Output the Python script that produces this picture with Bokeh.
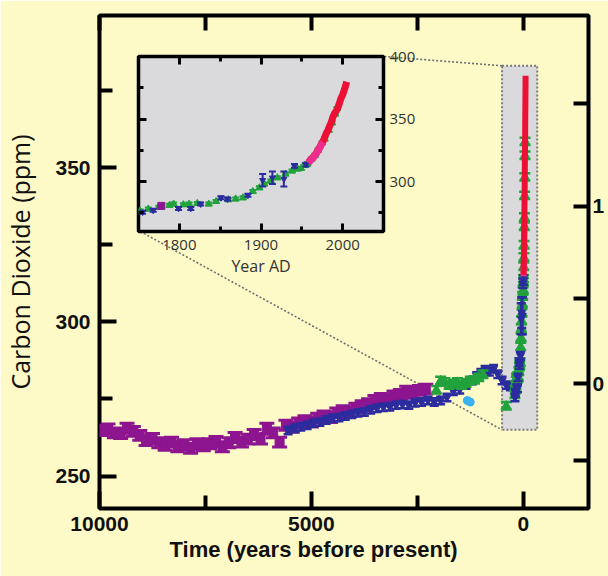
import math
from bokeh.plotting import figure
from bokeh.models import Range1d, LinearAxis, FixedTicker, Title
from bokeh.embed import file_html
from bokeh.resources import INLINE

# ---------------- Holocene records (years before 1950, ppm) ----------------
dome_bp = [9950, 9800, 9650, 9500, 9350, 9200, 9050, 8900, 8750, 8600, 8450, 8300,
           8150, 8000, 7850, 7700, 7550, 7400, 7250, 7100, 6950, 6800, 6650, 6500,
           6350, 6200, 6050, 5900, 5750, 5600, 5450, 5300, 5150, 5000, 4850, 4700,
           4550, 4400, 4250, 4100, 3950, 3800, 3650, 3500, 3350, 3200, 3050, 2900,
           2750, 2600, 2450, 2300]
dome_ppm = [264.8, 265.3, 264.0, 263.8, 265.5, 264.5, 263.2, 261.5, 262.2, 260.8, 260.0, 261.0,
            259.5, 260.2, 259.0, 260.5, 259.8, 260.5, 261.2, 259.5, 260.8, 262.5, 261.0, 262.0,
            263.5, 262.0, 265.5, 264.0, 261.0, 266.5, 265.8, 267.2, 268.0, 267.5, 268.8, 269.5,
            269.0, 270.5, 271.2, 270.8, 272.0, 272.8, 273.5, 274.5, 275.2, 274.8, 276.0, 276.5,
            277.5, 276.8, 277.8, 278.2]
dome_err = 1.6

taylor_bp = [5550, 5400, 5250, 5100, 4950, 4800, 4650, 4500, 4350, 4200, 4050, 3900,
             3750, 3600, 3450, 3300, 3150, 3000, 2850, 2700, 2550, 2400, 2250, 2100,
             1950, 1800, 1650, 1500, 1350, 1200, 1100, 1000, 900, 800, 700, 600,
             500, 400, 300]
taylor_ppm = [264.8, 265.5, 266.0, 266.5, 267.2, 267.5, 268.2, 268.8, 269.0, 269.5, 270.0, 270.5,
              270.8, 271.5, 272.0, 272.3, 272.5, 273.0, 273.2, 273.0, 273.8, 274.0, 274.5, 274.0,
              274.5, 275.5, 277.5, 278.0, 279.5, 281.0, 282.5, 283.5, 284.5, 283.8, 284.8, 283.0,
              281.0, 279.5, 279.0]
taylor_err = 1.2

law_holo_bp = [2050, 1950, 1850, 1750, 1650, 1550, 1450, 1350, 1250, 1150, 1050, 950, 400]
law_holo_ppm = [278.0, 281.0, 280.5, 279.5, 280.0, 280.5, 279.5, 280.2, 281.0, 281.2, 282.0, 283.0, 272.8]
law_holo_err = 1.2

siple_bp = [1320, 1250]
siple_ppm = [274.5, 274.0]

# ---------------- Industrial era records (year AD, ppm) ----------------
core_year = [1755, 1768, 1799, 1814, 1826, 1851, 1859, 1884, 1902, 1914, 1928, 1941, 1955]
core_ppm = [275.5, 277.0, 278.5, 278.5, 282.0, 287.0, 286.0, 289.0, 301.0, 303.0, 302.0, 312.5, 313.5]
core_err = [1.2, 1.2, 1.2, 1.2, 1.2, 1.2, 1.2, 1.2, 5.0, 5.0, 6.0, 1.5, 1.5]

firn_year = [1752, 1762, 1775, 1788, 1793, 1805, 1812, 1822, 1836, 1845, 1860, 1869, 1878,
             1890, 1898, 1904, 1912, 1920, 1930, 1938, 1945, 1949, 1954, 1957, 1962, 1966,
             1970, 1975, 1978, 1983, 1987, 1991, 1993]
firn_ppm = [276.5, 278.0, 279.5, 281.0, 282.0, 281.5, 282.0, 282.5, 282.0, 284.0, 285.5, 286.1, 287.0,
            292.0, 295.0, 298.0, 300.5, 303.0, 306.0, 308.5, 310.0, 310.5, 313.0, 314.0, 318.0, 321.0,
            325.0, 331.0, 334.0, 341.0, 347.0, 354.0, 358.5]
firn_err = 1.2

taylor_recent_year = [1778]
taylor_recent_ppm = [280.5]

spo_year = [1958, 1960, 1962, 1964, 1966, 1968, 1970, 1972, 1974, 1976]
spo_ppm = [314.8, 316.4, 317.8, 319.0, 320.6, 322.4, 325.0, 326.8, 329.5, 331.6]

mlo_year = [1958, 1960, 1962, 1964, 1966, 1968, 1970, 1972, 1974, 1976, 1978, 1980,
            1982, 1984, 1986, 1988, 1990, 1992, 1994, 1996, 1998, 2000, 2002, 2004, 2005]
mlo_ppm = [315.3, 316.9, 318.4, 319.6, 321.1, 323.0, 325.7, 327.4, 330.2, 332.1, 335.4, 338.7,
           341.1, 344.4, 347.2, 351.6, 354.4, 356.3, 358.8, 362.6, 366.7, 369.4, 373.2, 377.5, 379.8]

# Radiative forcing scale (W m-2): F = 5.35 ln(C / 280)
forcing_major = [0, 1]
forcing_minor = [-0.5, 0.5, 1.5]
F_COEF, C_REF = 5.35, 280.0

# Axis ticks
time_major = [10000, 5000, 0]
time_minor = [7500, 2500]
ppm_major = [250, 300, 350]
ppm_minor = [275, 325, 375]
year_major = [1800, 1900, 2000]
year_minor = [1850, 1950]
inset_ppm_major = [300, 350, 400]
inset_ppm_minor = [275, 325, 375]

# ---------------- styling ----------------
YELLOW = "#FDFAC8"
BOXGRAY = "#DADADD"
PURPLE = "#8E1590"
BLUE = "#2B2C9E"
GREEN = "#22A23C"
CYAN = "#38B2F0"
PINK = "#EE2C8E"
RED = "#EC1034"
BOLD_FONT = "Liberation Sans"
PLAIN_FONT = "Open Sans"
INK = "#111111"
TICK_SIZE = "21px"

W, H = 608, 576
FL, FR, FT, FB = 97, 588, 15, 508          # main frame edges (px)
X0, X1 = 10000, -1540
Y0, Y1 = 239.5, 399.3

IX, IY, IW, IH = 100, 38, 330, 256          # inset canvas placement (px)
IL, IR, IT, IB = 138, 383, 56, 231           # inset frame edges (px)


def to_bp(years):
    return [1950 - y for y in years]


def px_to_main(px, py):
    x = X0 + (px - FL) / (FR - FL) * (X1 - X0)
    y = Y1 - (py - FT) / (FB - FT) * (Y1 - Y0)
    return x, y


def errbar_series(fig, x, y, err, color, marker, size, cap, lw):
    errs = err if isinstance(err, list) else [err] * len(y)
    lo = [v - e for v, e in zip(y, errs)]
    hi = [v + e for v, e in zip(y, errs)]
    fig.segment(x0=x, y0=lo, x1=x, y1=hi, line_color=color, line_width=lw)
    fig.scatter(x + x, lo + hi, marker="dash", size=cap, line_color=color, line_width=lw)
    fig.scatter(x, y, marker=marker, size=size, fill_color=color, line_color=color)


def style_axis(ax, major_in, minor_in, width, font=None, size=None, style="normal",
               color=INK, show=True):
    ax.axis_line_color = None
    ax.major_tick_in, ax.major_tick_out = major_in, 0
    ax.minor_tick_in, ax.minor_tick_out = minor_in, 0
    ax.major_tick_line_width = width
    ax.minor_tick_line_width = width
    ax.major_tick_line_color = "black"
    ax.minor_tick_line_color = "black"
    if show:
        ax.major_label_text_font = font
        ax.major_label_text_font_size = size
        ax.major_label_text_font_style = style
        ax.major_label_text_color = color
    else:
        # tick marks only
        ax.major_label_text_color = None
        ax.major_label_text_font_size = "1px"
        ax.major_label_standoff = 0


def no_grid(fig):
    for g in fig.grid:
        g.visible = False


# ---------------- main panel ----------------
main = figure(width=W, height=H, x_range=Range1d(X0, X1), y_range=Range1d(Y0, Y1),
              output_backend="svg", toolbar_location=None,
              x_axis_location=None, y_axis_location=None,
              min_border_left=FL, min_border_right=W - FR,
              min_border_top=FT, min_border_bottom=H - FB)
main.background_fill_color = YELLOW
main.border_fill_color = YELLOW
main.outline_line_color = "black"
main.outline_line_width = 4
no_grid(main)

xb = LinearAxis(ticker=FixedTicker(ticks=time_major, minor_ticks=time_minor))
style_axis(xb, 17, 13, 4, BOLD_FONT, TICK_SIZE, "bold")
xb.major_label_standoff = 8
main.add_layout(xb, "below")
main.add_layout(Title(text="Time (years before present)", align="left", offset=70,
                      text_font=BOLD_FONT, text_font_size="22px", text_font_style="bold",
                      text_color=INK, standoff=2), "below")

xt = LinearAxis(ticker=FixedTicker(ticks=time_major, minor_ticks=time_minor))
style_axis(xt, 15, 15, 4, show=False)
main.add_layout(xt, "above")

yl = LinearAxis(ticker=FixedTicker(ticks=ppm_major, minor_ticks=ppm_minor),
                axis_label="Carbon Dioxide (ppm)")
style_axis(yl, 17, 13, 4, BOLD_FONT, TICK_SIZE, "bold")
yl.major_label_standoff = 9
yl.axis_label_standoff = 15
yl.axis_label_text_font = PLAIN_FONT
yl.axis_label_text_font_size = "25px"
yl.axis_label_text_font_style = "normal"
yl.axis_label_text_color = INK
main.add_layout(yl, "left")

forcing_ticks = [C_REF * math.exp(f / F_COEF) for f in forcing_major]
forcing_minor_ticks = [C_REF * math.exp(f / F_COEF) for f in forcing_minor]
yr = LinearAxis(ticker=FixedTicker(ticks=forcing_ticks, minor_ticks=forcing_minor_ticks))
yr.major_label_overrides = {t: str(f) for t, f in zip(forcing_ticks, forcing_major)}
style_axis(yr, 15, 15, 4, BOLD_FONT, TICK_SIZE, "bold")
yr.major_label_standoff = 4
main.add_layout(yr, "right")

# highlighted industrial-era box and its links to the inset
main.quad(left=500, right=-330, bottom=265, top=383, fill_color=BOXGRAY,
          line_color="#7A7A7A", line_width=2, line_dash="2 2")
for cx, cy, tx, ty in [(IR, IT, 500, 383), (IL, IB, 500, 265)]:
    sx, sy = px_to_main(cx, cy)
    main.line([sx, tx], [sy, ty], line_color="#6E6E6E", line_width=1.6, line_dash="2 2")

errbar_series(main, dome_bp, dome_ppm, dome_err, PURPLE, "square", 9, 15, 3)
errbar_series(main, taylor_bp, taylor_ppm, taylor_err, BLUE, "inverted_triangle", 8, 9, 2.5)
errbar_series(main, law_holo_bp, law_holo_ppm, law_holo_err, GREEN, "triangle", 9, 11, 2.5)
main.scatter(siple_bp, siple_ppm, marker="circle", size=8, fill_color=CYAN, line_color=CYAN)
errbar_series(main, to_bp(firn_year), firn_ppm, firn_err, GREEN, "triangle", 9, 11, 2.5)
errbar_series(main, to_bp(core_year), core_ppm, core_err, BLUE, "inverted_triangle", 8, 9, 2.5)
main.line(to_bp(spo_year), spo_ppm, line_color=PINK, line_width=6)
main.line(to_bp(mlo_year), mlo_ppm, line_color=RED, line_width=6)

# ---------------- inset: industrial era ----------------
inset = figure(width=IW, height=IH, x_range=Range1d(1750, 2050), y_range=Range1d(260, 400),
               output_backend="svg", toolbar_location=None,
               x_axis_location=None, y_axis_location=None,
               min_border_left=IL - IX, min_border_right=IX + IW - IR,
               min_border_top=IT - IY, min_border_bottom=IY + IH - IB,
               styles={"position": "absolute", "left": f"{IX}px", "top": f"{IY}px"})
inset.background_fill_color = BOXGRAY
inset.border_fill_color = None
inset.outline_line_color = "black"
inset.outline_line_width = 3.5
no_grid(inset)

ixb = LinearAxis(ticker=FixedTicker(ticks=year_major, minor_ticks=year_minor), axis_label="Year AD")
style_axis(ixb, 8, 5, 3, PLAIN_FONT, "15px", "normal", color="#333333")
ixb.major_label_standoff = 8
ixb.axis_label_standoff = 2
ixb.axis_label_text_font = PLAIN_FONT
ixb.axis_label_text_font_size = "16px"
ixb.axis_label_text_font_style = "normal"
ixb.axis_label_text_color = "#333333"
inset.add_layout(ixb, "below")

ixt = LinearAxis(ticker=FixedTicker(ticks=year_major, minor_ticks=year_minor))
style_axis(ixt, 8, 5, 3, show=False)
inset.add_layout(ixt, "above")

iyl = LinearAxis(ticker=FixedTicker(ticks=inset_ppm_major, minor_ticks=inset_ppm_minor))
style_axis(iyl, 8, 5, 3, show=False)
inset.add_layout(iyl, "left")

iyr = LinearAxis(ticker=FixedTicker(ticks=inset_ppm_major, minor_ticks=inset_ppm_minor))
style_axis(iyr, 8, 5, 3, PLAIN_FONT, "15px", "normal", color="#333333")
iyr.major_label_standoff = 6
inset.add_layout(iyr, "right")

errbar_series(inset, firn_year, firn_ppm, firn_err, GREEN, "triangle", 7, 7, 2)
errbar_series(inset, core_year, core_ppm, core_err, BLUE, "inverted_triangle", 6, 7, 2)
inset.scatter(taylor_recent_year, taylor_recent_ppm, marker="square", size=7,
              fill_color=PURPLE, line_color=PURPLE)
inset.line(mlo_year, mlo_ppm, line_color=RED, line_width=7)
inset.line(spo_year, spo_ppm, line_color=PINK, line_width=7)

# two page roots: the inset floats over the main panel
open("out.html", "w").write(file_html([main, inset], INLINE))
